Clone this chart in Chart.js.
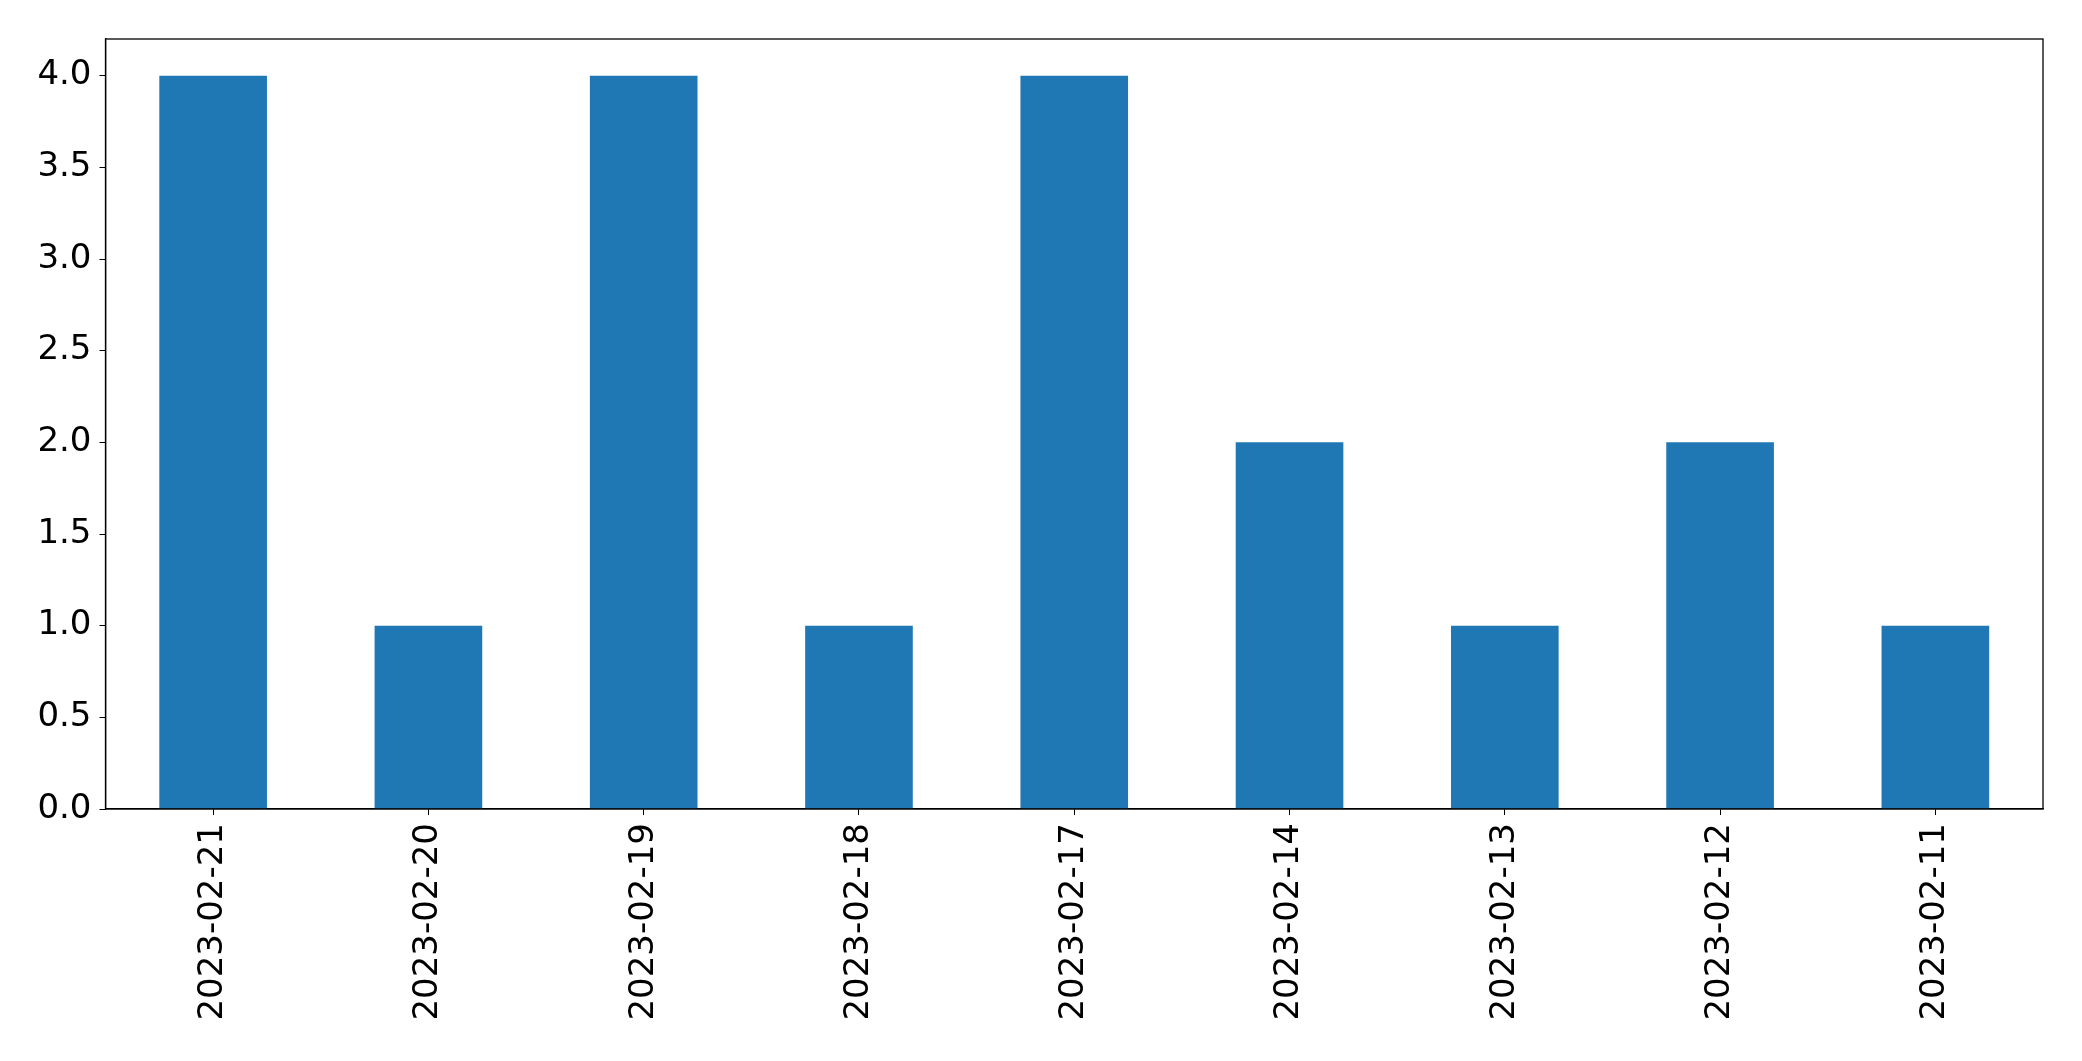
<!DOCTYPE html>
<html>
<head>
<meta charset="utf-8">
<script src="https://cdn.jsdelivr.net/npm/chart.js@4/dist/chart.umd.min.js"></script>
<style>
  html, body { margin: 0; padding: 0; background: #fff; }
  canvas { display: block; }
</style>
</head>
<body>
<canvas id="chart" width="2082" height="1061"></canvas>
<script>
// data
const dates = ["2023-02-21", "2023-02-20", "2023-02-19", "2023-02-18", "2023-02-17",
               "2023-02-14", "2023-02-13", "2023-02-12", "2023-02-11"];
const counts = [4, 1, 4, 1, 4, 2, 1, 2, 1];
const yTicks = [0, 0.5, 1, 1.5, 2, 2.5, 3, 3.5, 4];
const yMax = 4.2;

// draw the full box round the plot area (top + right sides)
const frame = {
    id: "frame",
    afterDraw(chart)
    {
        const a = chart.chartArea;
        const ctx = chart.ctx;
        ctx.save();
        ctx.strokeStyle = "#000";
        ctx.lineWidth = 1.3;
        ctx.strokeRect(a.left, a.top, a.right - a.left, a.bottom - a.top);
        ctx.restore();
    }
};

const font = { family: "'DejaVu Sans', sans-serif", size: 34 };

new Chart(document.getElementById("chart"), {
    type: "bar",
    data: {
        labels: dates,
        datasets: [{
            data: counts,
            backgroundColor: "#1f77b4",
            borderWidth: 0,
            categoryPercentage: 1.0,
            barPercentage: 0.5
        }]
    },
    options: {
        responsive: false,
        animation: false,
        layout: { padding: { top: 39, right: 39, left: 0, bottom: 0 } },
        plugins: {
            legend: { display: false },
            tooltip: { enabled: false }
        },
        scales: {
            x: {
                offset: true,
                grid: { display: true, offset: false, drawOnChartArea: false, drawTicks: true, tickLength: 6, color: "#000" },
                border: { display: true, color: "#000", width: 1.3 },
                ticks: { color: "#000", font: font, minRotation: 90, maxRotation: 90, padding: 8, autoSkip: false },
                afterFit(scale) { scale.height = 252; }
            },
            y: {
                min: 0,
                max: yMax,
                grid: { display: true, drawOnChartArea: false, drawTicks: true, tickLength: 6, color: "#000" },
                border: { display: true, color: "#000", width: 1.3 },
                ticks: {
                    color: "#000",
                    font: font,
                    padding: 8,
                    callback: v => Number(v).toFixed(1)
                },
                afterBuildTicks(scale) { scale.ticks = yTicks.map(v => ({ value: v })); },
                afterFit(scale) { scale.width = 105.5; }
            }
        }
    },
    plugins: [frame]
});
</script>
</body>
</html>
